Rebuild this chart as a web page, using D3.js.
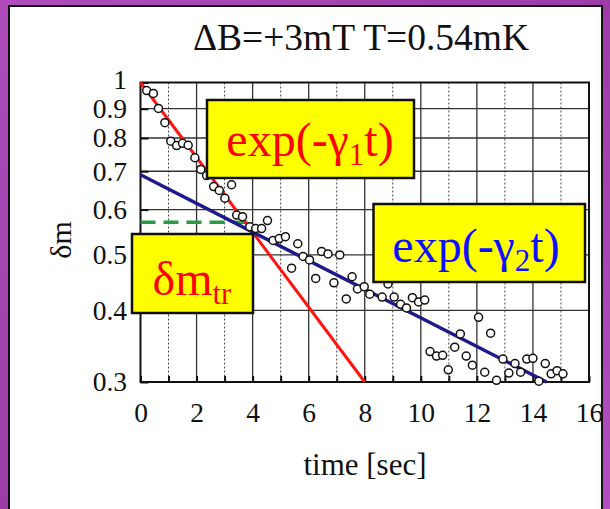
<!DOCTYPE html>
<html>
<head>
<meta charset="utf-8">
<script src="https://cdn.jsdelivr.net/npm/d3@7/dist/d3.min.js"></script>
<style>
  html, body { margin: 0; padding: 0; background: #a545b3; }
  svg { display: block; }
</style>
</head>
<body>
<svg id="chart" width="610" height="509"></svg>
<script>
// Relaxation of the magnetization deviation δm versus time
const times = [0.22,0.46,0.64,0.87,1.08,1.29,1.50,1.70,1.94,2.15,2.36,2.61,2.81,3.01,3.25,3.43,3.64,3.90,4.11,4.32,
  4.53,4.73,4.95,5.17,5.39,5.61,5.80,6.03,6.25,6.46,6.69,6.90,7.11,7.34,7.55,7.74,7.98,8.18,8.62,8.83,
  9.05,9.28,9.49,9.70,9.92,10.14,10.33,10.56,10.78,10.98,11.21,11.41,11.62,11.84,12.06,12.28,12.49,12.70,12.93,13.14,
  13.36,13.56,13.78,14.00,14.21,14.44,14.65,14.86,15.07];
const dm = [0.968,0.957,0.901,0.851,0.790,0.776,0.783,0.777,0.739,0.705,0.688,0.658,0.648,0.628,0.663,0.587,0.583,0.560,0.556,0.556,
  0.574,0.530,0.534,0.538,0.474,0.523,0.497,0.490,0.455,0.507,0.502,0.447,0.500,0.419,0.458,0.436,0.440,0.427,0.422,0.445,
  0.422,0.410,0.404,0.421,0.414,0.417,0.339,0.333,0.334,0.315,0.345,0.364,0.333,0.321,0.389,0.312,0.365,0.302,0.329,0.311,
  0.323,0.312,0.329,0.330,0.301,0.323,0.310,0.314,0.310];

// Exponential fits: amplitude and decay rate (1/sec)
const fitNames = ["fast", "slow"];
const fitAmp = [1.0, 0.69];
const fitRate = [0.1505, 0.0575];
const fitColors = ["#ff1414", "#1e1a8c"];

// Transition level δm_tr and where its marker ends
const dmTr = 0.57;
const dmTrEnd = 4.1;

const xTicks = d3.range(0, 17, 1);
const xLabelTicks = [0, 2, 4, 6, 8, 10, 12, 14, 16];
const yTicks = [0.3, 0.4, 0.5, 0.6, 0.7, 0.8, 0.9, 1];

const titleText = "ΔB=+3mT T=0.54mK";
const xTitle = "time [sec]";

const serif = "'Liberation Serif', 'Times New Roman', serif";

const svg = d3.select("#chart");

// purple backdrop and white slide panel
const defs = svg.append("defs");
const grad = defs.append("linearGradient").attr("id", "bg").attr("x1", 0).attr("y1", 0).attr("x2", 1).attr("y2", 1);
grad.append("stop").attr("offset", "0%").attr("stop-color", "#b04cbc");
grad.append("stop").attr("offset", "50%").attr("stop-color", "#9c3ca8");
grad.append("stop").attr("offset", "100%").attr("stop-color", "#b14fc0");
svg.append("rect").attr("width", 610).attr("height", 509).attr("fill", "url(#bg)");
svg.append("rect").attr("x", 9).attr("y", 6).attr("width", 593).attr("height", 520)
  .attr("fill", "#fff").attr("stroke", "#111").attr("stroke-width", 2);

const plot = { left: 140.5, right: 589, top: 82.5, bottom: 382 };

const x = d3.scaleLinear().domain([0, 16]).range([plot.left, plot.right]);
const y = d3.scaleLog().domain([0.3, 1]).range([plot.bottom, plot.top]);

// title
svg.append("text").attr("x", 361).attr("y", 50).attr("text-anchor", "middle")
  .attr("font-family", serif).attr("font-size", 37.5).attr("fill", "#111").text(titleText);

// grid
const grid = svg.append("g");
grid.selectAll("line.v").data(xTicks.filter(d => d > 0 && d < 16)).join("line")
  .attr("x1", d => x(d)).attr("x2", d => x(d)).attr("y1", plot.top).attr("y2", plot.bottom)
  .attr("stroke", d => d % 2 === 0 ? "#333" : "#444")
  .attr("stroke-width", d => d % 2 === 0 ? 1.3 : 1)
  .attr("stroke-dasharray", d => d % 2 === 0 ? null : "2,2");
grid.selectAll("line.h").data(yTicks.filter(d => d > 0.3 && d < 1)).join("line")
  .attr("x1", plot.left).attr("x2", plot.right).attr("y1", d => y(d)).attr("y2", d => y(d))
  .attr("stroke", "#333").attr("stroke-width", 1.3);

// axes with inward ticks
const xAxis = svg.append("g").attr("transform", `translate(0,${plot.bottom})`)
  .call(d3.axisBottom(x).tickValues(xTicks).tickSizeInner(-6).tickSizeOuter(0).tickPadding(20)
    .tickFormat(d => xLabelTicks.includes(d) ? d : ""));
const yAxis = svg.append("g").attr("transform", `translate(${plot.left},0)`)
  .call(d3.axisLeft(y).tickValues(yTicks).tickSizeInner(-8).tickSizeOuter(0).tickPadding(13.5)
    .tickFormat(d => String(d)));
[xAxis, yAxis].forEach(a => {
  a.select(".domain").remove();
  a.selectAll(".tick line").attr("stroke", "#111").attr("stroke-width", 2);
  a.selectAll(".tick text").attr("font-family", serif).attr("font-size", 27.5).attr("fill", "#111");
});
// keep the top label "1" clear of "0.9"
yAxis.selectAll(".tick text").filter(d => d === 1).attr("dy", "0.22em");

// plot frame
svg.append("rect").attr("x", plot.left).attr("y", plot.top)
  .attr("width", plot.right - plot.left).attr("height", plot.bottom - plot.top)
  .attr("fill", "none").attr("stroke", "#111").attr("stroke-width", 2);

// axis titles
svg.append("text").attr("x", 365).attr("y", 475).attr("text-anchor", "middle")
  .attr("font-family", serif).attr("font-size", 31).attr("fill", "#111").text(xTitle);
svg.append("text").attr("transform", "translate(71,240) rotate(-90)").attr("text-anchor", "middle")
  .attr("font-family", serif).attr("font-size", 30).attr("fill", "#111").text("δm");

// δm_tr level
svg.append("line").attr("x1", x(0)).attr("x2", x(dmTrEnd)).attr("y1", y(dmTr)).attr("y2", y(dmTr))
  .attr("stroke", "#2a9a45").attr("stroke-width", 3.5).attr("stroke-dasharray", "15,8");

// fit lines, each drawn from t=0 until it leaves the bottom of the axis
const line = d3.line().x(d => x(d[0])).y(d => y(d[1]));
fitNames.forEach((name, i) => {
  const tEnd = Math.log(fitAmp[i] / 0.3) / fitRate[i];
  const pts = [0, tEnd].map(t => [t, fitAmp[i] * Math.exp(-fitRate[i] * t)]);
  svg.append("path").datum(pts).attr("d", line).attr("fill", "none")
    .attr("stroke", fitColors[i]).attr("stroke-width", i === 0 ? 3 : 3.5);
});

// measurements
svg.append("g").selectAll("circle").data(times.map((t, i) => [t, dm[i]])).join("circle")
  .attr("cx", d => x(d[0])).attr("cy", d => y(d[1])).attr("r", 4)
  .attr("fill", "#fff").attr("stroke", "#111").attr("stroke-width", 1.5);

// annotation boxes
function labelBox(x0, y0, w, h, color, tx, ty, parts) {
  svg.append("rect").attr("x", x0).attr("y", y0).attr("width", w).attr("height", h)
    .attr("fill", "#ffff00").attr("stroke", "#111").attr("stroke-width", 2.5);
  const t = svg.append("text").attr("x", tx).attr("y", ty).attr("text-anchor", "middle")
    .attr("font-family", serif).attr("font-size", 48).attr("fill", color);
  parts.forEach(p => {
    const s = t.append("tspan").text(p.text);
    if (p.sub) s.attr("font-size", 31).attr("dy", 9);
    else if (p.after) s.attr("dy", -9);
  });
}
labelBox(207, 100, 207, 78, "#ff0000", 310, 156,
  [{ text: "exp(-γ" }, { text: "1", sub: true }, { text: "t)", after: true }]);
labelBox(373.5, 204, 211.5, 78, "#1010ff", 476, 262,
  [{ text: "exp(-γ" }, { text: "2", sub: true }, { text: "t)", after: true }]);
labelBox(132, 234, 121, 79, "#ff0000", 192, 295,
  [{ text: "δm" }, { text: "tr", sub: true }]);
</script>
</body>
</html>
